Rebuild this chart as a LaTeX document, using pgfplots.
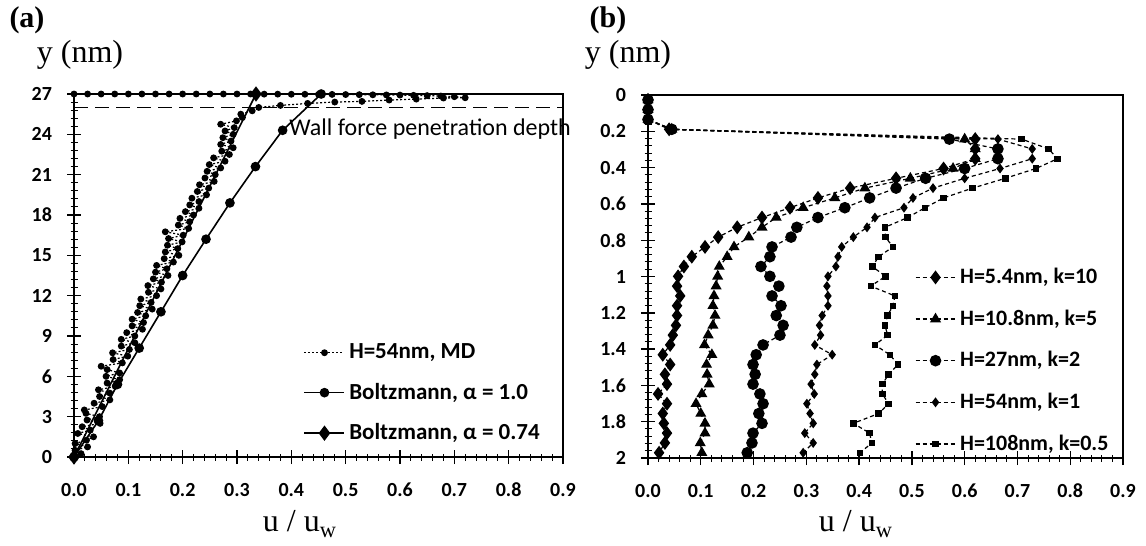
\documentclass[border=0pt]{standalone}
\usepackage{pgfplots}
\usepackage{pgfplotstable}
\pgfplotsset{compat=1.18}
\usepackage{fontspec}
\setmainfont{Liberation Serif}
\newfontfamily\calibri{Carlito}

% MD velocity profile, H = 54 nm (half channel)
\pgfplotstableread{
y x
0.00 0.000
0.25 0.013
0.50 0.002
0.75 0.025
1.00 0.002
1.25 0.023
1.50 0.036
1.75 0.007
2.00 0.030
2.25 0.015
2.50 0.048
2.75 0.024
3.00 0.047
3.25 0.022
3.50 0.019
3.75 0.052
4.00 0.037
4.25 0.066
4.50 0.047
4.75 0.066
5.00 0.045
5.25 0.076
5.50 0.061
5.75 0.084
6.00 0.059
6.25 0.084
6.50 0.061
6.75 0.050
7.00 0.089
7.25 0.072
7.50 0.099
7.75 0.071
8.00 0.102
8.25 0.087
8.50 0.112
8.75 0.087
9.00 0.112
9.25 0.097
9.50 0.126
9.75 0.107
10.00 0.128
10.25 0.107
10.50 0.132
10.75 0.117
11.00 0.144
11.25 0.121
11.50 0.142
11.75 0.123
12.00 0.152
12.25 0.137
12.50 0.160
12.75 0.136
13.00 0.161
13.25 0.146
13.50 0.173
13.75 0.150
14.00 0.171
14.25 0.152
14.50 0.183
14.75 0.166
15.00 0.193
15.25 0.168
15.50 0.191
15.75 0.172
16.00 0.199
16.25 0.174
16.50 0.201
16.75 0.168
17.00 0.211
17.25 0.192
17.50 0.213
17.75 0.195
18.00 0.220
18.25 0.205
18.50 0.230
18.75 0.213
19.00 0.230
19.25 0.217
19.50 0.244
19.75 0.227
20.00 0.248
20.25 0.231
20.50 0.258
20.75 0.241
21.00 0.260
21.25 0.245
21.50 0.270
21.75 0.249
22.00 0.278
22.25 0.257
22.50 0.286
22.75 0.272
23.00 0.293
23.25 0.270
23.50 0.289
23.75 0.274
24.00 0.293
24.25 0.278
24.50 0.295
24.75 0.270
25.00 0.299
25.25 0.310
25.50 0.307
25.75 0.328
26.00 0.340
26.15 0.380
26.30 0.430
26.40 0.480
26.45 0.530
26.55 0.580
26.62 0.630
26.70 0.680
26.72 0.720
26.80 0.700
26.85 0.675
26.88 0.650
26.90 0.625
26.92 0.600
26.93 0.575
26.94 0.550
26.95 0.525
26.96 0.500
26.97 0.475
26.97 0.450
26.98 0.425
26.98 0.400
26.99 0.375
26.99 0.350
27.00 0.325
27.00 0.300
27.00 0.275
27.00 0.250
27.00 0.225
27.00 0.200
27.00 0.175
27.00 0.150
27.00 0.125
27.00 0.100
27.00 0.075
27.00 0.050
27.00 0.025
27.00 0.000
}\mdprofile

% Boltzmann solution, alpha = 1.0
\pgfplotstableread{
y x
0.0 0.000
2.7 0.045
5.4 0.080
8.1 0.120
10.8 0.160
13.5 0.200
16.2 0.243
18.9 0.287
21.6 0.334
24.3 0.384
27.0 0.455
}\boltzone

% Velocity profiles near the wall for different H and k
\pgfplotstableread{
y A B C D E
0.027 0 0 0 0 0
0.081 0 0 0 0 0
0.135 0 0 0 0 0
0.189 0.040 0.045 0.045 0.045 0.045
0.243 0.620 0.600 0.571 0.663 0.708
0.297 0.620 0.620 0.663 0.728 0.759
0.351 0.620 0.620 0.663 0.728 0.776
0.405 0.560 0.578 0.600 0.667 0.735
0.459 0.470 0.497 0.526 0.600 0.677
0.513 0.383 0.411 0.470 0.540 0.615
0.567 0.322 0.354 0.420 0.502 0.560
0.621 0.269 0.294 0.373 0.485 0.525
0.675 0.216 0.243 0.322 0.430 0.492
0.729 0.169 0.216 0.282 0.415 0.449
0.783 0.133 0.191 0.271 0.389 0.450
0.837 0.108 0.163 0.235 0.367 0.464
0.891 0.083 0.150 0.231 0.360 0.437
0.945 0.068 0.135 0.214 0.356 0.425
0.999 0.057 0.132 0.231 0.341 0.450
1.053 0.055 0.129 0.248 0.339 0.422
1.107 0.061 0.125 0.235 0.341 0.468
1.161 0.055 0.123 0.252 0.341 0.464
1.215 0.055 0.127 0.243 0.330 0.454
1.269 0.053 0.123 0.256 0.325 0.449
1.323 0.047 0.114 0.250 0.327 0.454
1.377 0.042 0.107 0.218 0.316 0.430
1.431 0.028 0.121 0.205 0.349 0.458
1.485 0.042 0.111 0.199 0.320 0.474
1.539 0.032 0.112 0.203 0.316 0.456
1.593 0.036 0.116 0.199 0.309 0.444
1.647 0.019 0.102 0.212 0.315 0.444
1.701 0.036 0.091 0.218 0.301 0.456
1.755 0.028 0.100 0.210 0.307 0.437
1.809 0.030 0.108 0.216 0.313 0.389
1.863 0.036 0.108 0.199 0.297 0.420
1.917 0.032 0.099 0.197 0.313 0.424
1.971 0.021 0.102 0.188 0.294 0.402
}\profiles

\pgfplotsset{
  panel/.style={
    scale only axis, height=181.5pt,
    clip=false,
    axis line style={line width=0.8pt},
    tick align=center, tick pos=left,
    minor tick num=4,
    major tick length=7pt, minor tick length=3.5pt,
    major tick style={black, line width=0.7pt},
    minor tick style={black, line width=0.5pt},
    /pgf/number format/assume math mode=true,
    tick label style={font=\calibri\bfseries\fontsize{10}{12}\selectfont},
    xmin=0, xmax=0.9,
    xtick={0,0.1,0.2,0.3,0.4,0.5,0.6,0.7,0.8,0.9},
    xticklabels={0.0,0.1,0.2,0.3,0.4,0.5,0.6,0.7,0.8,0.9},
    xticklabel style={yshift=-6pt},
    yticklabel style={xshift=-4pt},
    legend cell align=left,
    legend image code/.code={%
      \draw[mark repeat=2,mark phase=2,##1] plot coordinates {(0pt,0pt) (10pt,0pt) (20pt,0pt)};},
  },
  prof/.style={black, line width=0.6pt, dash pattern=on 2pt off 1.5pt,
    mark options={solid}},
}

\begin{document}
\begin{tikzpicture}
\path[use as bounding box] (0pt,0pt) rectangle (573pt,-273pt);

% ---------------- (a) ----------------
\begin{axis}[panel,
  at={(37pt,-47pt)}, anchor=north west, width=244.5pt,
  ymin=0, ymax=27, ytick={0,3,...,27},
  legend style={at={(axis cs:0.422,8.75)}, anchor=north west,
    draw=none, fill=none, inner sep=0pt, row sep=6.7pt,
    font=\calibri\bfseries\fontsize{11.5}{13}\selectfont},
]
\addplot[forget plot, black, line width=0.9pt, dash pattern=on 7pt off 3.5pt]
  coordinates {(0,26) (0.9,26)};
\addplot[black, line width=0.6pt, dash pattern=on 1pt off 1pt,
  mark=*, mark size=1.4pt, mark options={solid}]
  table[x=x, y=y] {\mdprofile};
\addlegendentry{H=54nm, MD}
\addplot[black, line width=0.8pt, mark=*, mark size=2pt]
  table[x=x, y=y] {\boltzone};
\addlegendentry{Boltzmann, α = 1.0}
\addplot[black, line width=0.8pt, mark=diamond*, mark size=3.2pt]
  coordinates {(0,0) (0.335,27)};
\addlegendentry{Boltzmann, α = 0.74}
\node[anchor=west, inner sep=1pt, font=\calibri\fontsize{12}{14}\selectfont]
  at (axis cs:0.392,24.4) {Wall force penetration depth};
\end{axis}

% ---------------- (b) ----------------
\begin{axis}[panel,
  at={(324pt,-47.5pt)}, anchor=north west, width=237.5pt,
  y dir=reverse, ymin=0, ymax=2,
  ytick={0,0.2,0.4,0.6,0.8,1,1.2,1.4,1.6,1.8,2},
  yticklabels={0,0.2,0.4,0.6,0.8,1,1.2,1.4,1.6,1.8,2},
  legend style={at={(axis cs:0.505,0.93)}, anchor=north west,
    draw=none, fill=none, inner sep=0pt, row sep=7.6pt,
    font=\calibri\bfseries\fontsize{11}{13}\selectfont},
]
\addplot[prof, mark=diamond*, mark size=3pt] table[x=A, y=y] {\profiles};
\addlegendentry{H=5.4nm, k=10}
\addplot[prof, mark=triangle*, mark size=2.6pt] table[x=B, y=y] {\profiles};
\addlegendentry{H=10.8nm, k=5}
\addplot[prof, mark=*, mark size=2.6pt] table[x=C, y=y] {\profiles};
\addlegendentry{H=27nm, k=2}
\addplot[prof, mark=diamond*, mark size=2pt] table[x=D, y=y] {\profiles};
\addlegendentry{H=54nm, k=1}
\addplot[prof, mark=square*, mark size=1.3pt] table[x=E, y=y] {\profiles};
\addlegendentry{H=108nm, k=0.5}
\end{axis}

% panel letters and axis titles
\node[font=\bfseries\fontsize{15}{15}\selectfont] at (13.5pt,-10pt) {(a)};
\node[font=\bfseries\fontsize{15}{15}\selectfont] at (304pt,-10pt) {(b)};
\node[font=\fontsize{16}{16}\selectfont] at (40pt,-27.5pt) {y (nm)};
\node[font=\fontsize{16}{16}\selectfont] at (314pt,-27.5pt) {y (nm)};
\node[font=\fontsize{16}{16}\selectfont] at (150pt,-262pt) {u / u\textsubscript{w}};
\node[font=\fontsize{16}{16}\selectfont] at (428pt,-262pt) {u / u\textsubscript{w}};
\end{tikzpicture}
\end{document}
